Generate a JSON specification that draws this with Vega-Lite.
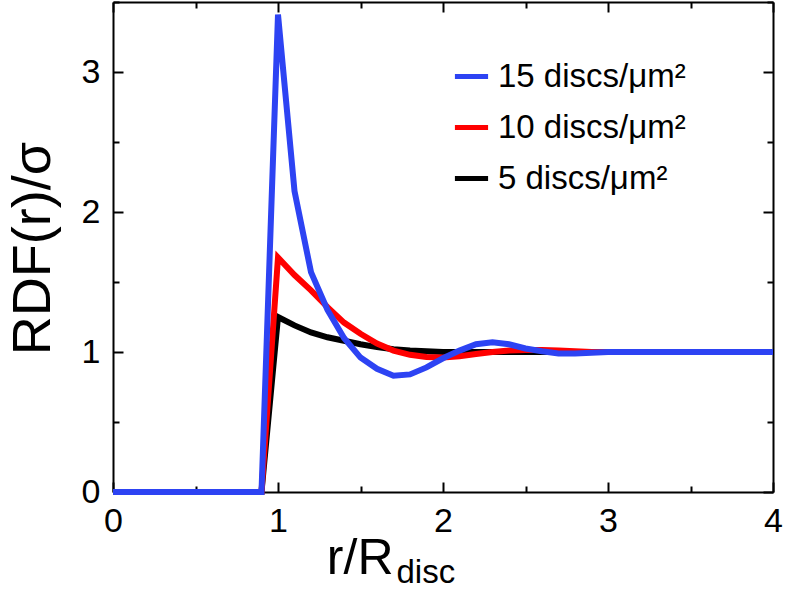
{
  "$schema": "https://vega.github.io/schema/vega-lite/v6.json",
  "width": 660,
  "height": 490,
  "autosize": {"type": "none"},
  "padding": {"left": 113, "top": 2, "right": 13, "bottom": 98},
  "background": "white",
  "config": {
    "view": {"stroke": null},
    "font": "Liberation Sans",
    "axis": {
      "grid": false,
      "domainColor": "black",
      "domainWidth": 2,
      "tickColor": "black",
      "tickWidth": 2,
      "labelColor": "black",
      "titleColor": "black",
      "labelFont": "Liberation Sans",
      "titleFont": "Liberation Sans",
      "titleFontWeight": "normal"
    }
  },
  "data": {
    "values": [
      {"series": "5 discs/μm²", "r": 0, "v": 0},
      {"series": "5 discs/μm²", "r": 0.9, "v": 0},
      {"series": "5 discs/μm²", "r": 1.0, "v": 1.25},
      {"series": "5 discs/μm²", "r": 1.1, "v": 1.19},
      {"series": "5 discs/μm²", "r": 1.2, "v": 1.14},
      {"series": "5 discs/μm²", "r": 1.3, "v": 1.105},
      {"series": "5 discs/μm²", "r": 1.4, "v": 1.08},
      {"series": "5 discs/μm²", "r": 1.5, "v": 1.055},
      {"series": "5 discs/μm²", "r": 1.6, "v": 1.035},
      {"series": "5 discs/μm²", "r": 1.7, "v": 1.02},
      {"series": "5 discs/μm²", "r": 1.8, "v": 1.01},
      {"series": "5 discs/μm²", "r": 1.9, "v": 1.005},
      {"series": "5 discs/μm²", "r": 2.0, "v": 1.0},
      {"series": "5 discs/μm²", "r": 2.2, "v": 1.0},
      {"series": "5 discs/μm²", "r": 2.5, "v": 1.0},
      {"series": "5 discs/μm²", "r": 3.0, "v": 1.0},
      {"series": "5 discs/μm²", "r": 4.0, "v": 1.0},
      {"series": "10 discs/μm²", "r": 0, "v": 0},
      {"series": "10 discs/μm²", "r": 0.9, "v": 0},
      {"series": "10 discs/μm²", "r": 1.0, "v": 1.675},
      {"series": "10 discs/μm²", "r": 1.1, "v": 1.55},
      {"series": "10 discs/μm²", "r": 1.2, "v": 1.44},
      {"series": "10 discs/μm²", "r": 1.3, "v": 1.32},
      {"series": "10 discs/μm²", "r": 1.4, "v": 1.21},
      {"series": "10 discs/μm²", "r": 1.5, "v": 1.13},
      {"series": "10 discs/μm²", "r": 1.6, "v": 1.06},
      {"series": "10 discs/μm²", "r": 1.7, "v": 1.01},
      {"series": "10 discs/μm²", "r": 1.8, "v": 0.98},
      {"series": "10 discs/μm²", "r": 1.9, "v": 0.965},
      {"series": "10 discs/μm²", "r": 2.0, "v": 0.96},
      {"series": "10 discs/μm²", "r": 2.1, "v": 0.97},
      {"series": "10 discs/μm²", "r": 2.2, "v": 0.985},
      {"series": "10 discs/μm²", "r": 2.3, "v": 1.0},
      {"series": "10 discs/μm²", "r": 2.4, "v": 1.01},
      {"series": "10 discs/μm²", "r": 2.5, "v": 1.015},
      {"series": "10 discs/μm²", "r": 2.6, "v": 1.015},
      {"series": "10 discs/μm²", "r": 2.7, "v": 1.01},
      {"series": "10 discs/μm²", "r": 2.8, "v": 1.005},
      {"series": "10 discs/μm²", "r": 2.9, "v": 1.0},
      {"series": "10 discs/μm²", "r": 3.0, "v": 1.0},
      {"series": "10 discs/μm²", "r": 4.0, "v": 1.0},
      {"series": "15 discs/μm²", "r": 0, "v": 0},
      {"series": "15 discs/μm²", "r": 0.9, "v": 0},
      {"series": "15 discs/μm²", "r": 1.0, "v": 3.41},
      {"series": "15 discs/μm²", "r": 1.1, "v": 2.15},
      {"series": "15 discs/μm²", "r": 1.2, "v": 1.57},
      {"series": "15 discs/μm²", "r": 1.3, "v": 1.3},
      {"series": "15 discs/μm²", "r": 1.4, "v": 1.1},
      {"series": "15 discs/μm²", "r": 1.5, "v": 0.96},
      {"series": "15 discs/μm²", "r": 1.6, "v": 0.88},
      {"series": "15 discs/μm²", "r": 1.7, "v": 0.83},
      {"series": "15 discs/μm²", "r": 1.8, "v": 0.84},
      {"series": "15 discs/μm²", "r": 1.9, "v": 0.89},
      {"series": "15 discs/μm²", "r": 2.0, "v": 0.955},
      {"series": "15 discs/μm²", "r": 2.1, "v": 1.01},
      {"series": "15 discs/μm²", "r": 2.2, "v": 1.055},
      {"series": "15 discs/μm²", "r": 2.3, "v": 1.07},
      {"series": "15 discs/μm²", "r": 2.4, "v": 1.055},
      {"series": "15 discs/μm²", "r": 2.5, "v": 1.025},
      {"series": "15 discs/μm²", "r": 2.6, "v": 1.005},
      {"series": "15 discs/μm²", "r": 2.7, "v": 0.99},
      {"series": "15 discs/μm²", "r": 2.8, "v": 0.99},
      {"series": "15 discs/μm²", "r": 2.9, "v": 0.995},
      {"series": "15 discs/μm²", "r": 3.0, "v": 1.0},
      {"series": "15 discs/μm²", "r": 4.0, "v": 1.0}
    ]
  },
  "layer": [
    {
      "mark": {"type": "line", "strokeWidth": 6, "strokeJoin": "miter", "strokeCap": "butt"},
      "encoding": {
        "x": {
          "field": "r", "type": "quantitative",
          "scale": {"domain": [0, 4], "nice": false},
          "axis": {
            "orient": "bottom", "values": [0, 1, 2, 3, 4], "ticks": false, "tickSize": 0,
            "labelFontSize": 34, "labelPadding": 12, "labelFlush": false,
            "title": "r/R", "titleFontSize": 50, "titleX": 280, "titleY": 81,
            "titleAlign": "right", "titleBaseline": "alphabetic"
          }
        },
        "y": {
          "field": "v", "type": "quantitative",
          "scale": {"domain": [0, 3.5], "nice": false},
          "axis": {
            "orient": "left", "values": [0, 1, 2, 3], "ticks": false, "tickSize": 0,
            "labelFontSize": 34, "labelPadding": 13, "labelFlush": false,
            "title": "RDF(r)/σ", "titleFontSize": 54, "titleAngle": -90,
            "titleX": -64, "titleY": 246, "titleAlign": "center", "titleBaseline": "alphabetic"
          }
        },
        "color": {
          "field": "series", "type": "nominal",
          "scale": {"domain": ["15 discs/μm²", "10 discs/μm²", "5 discs/μm²"], "range": ["#2d43f3", "#ff0000", "#000000"]},
          "legend": {
            "title": null, "orient": "none", "legendX": 339, "legendY": 55,
            "symbolType": "stroke", "symbolStrokeWidth": 5, "symbolSize": 1100,
            "labelFontSize": 33, "labelOffset": 7, "rowPadding": 14, "padding": 0,
            "labelLimit": 0, "labelColor": "black", "labelFont": "Liberation Sans"
          }
        }
      }
    },
    {
      "mark": {"type": "point", "opacity": 0},
      "encoding": {
        "x": {
          "field": "r", "type": "quantitative",
          "axis": {
            "orient": "bottom", "values": [0, 0.5, 1, 1.5, 2, 2.5, 3, 3.5, 4],
            "labels": false, "domain": false,
            "tickSize": {"condition": {"test": "datum.value % 1 === 0", "value": -10}, "value": -6},
            "title": "disc", "titleFontSize": 33, "titleX": 283, "titleY": 90,
            "titleAlign": "left", "titleBaseline": "alphabetic"
          }
        },
        "y": {
          "field": "v", "type": "quantitative",
          "axis": {
            "orient": "left", "values": [0, 0.5, 1, 1.5, 2, 2.5, 3, 3.5],
            "labels": false, "domain": false, "title": null,
            "tickSize": {"condition": {"test": "datum.value % 1 === 0", "value": -10}, "value": -6}
          }
        }
      }
    },
    {
      "mark": {"type": "point", "opacity": 0},
      "encoding": {
        "x": {
          "field": "r", "type": "quantitative",
          "axis": {
            "orient": "top", "values": [0, 0.5, 1, 1.5, 2, 2.5, 3, 3.5, 4],
            "labels": false, "domain": true, "title": null,
            "tickSize": {"condition": {"test": "datum.value % 1 === 0", "value": -10}, "value": -6}
          }
        },
        "y": {
          "field": "v", "type": "quantitative",
          "axis": {
            "orient": "right", "values": [0, 0.5, 1, 1.5, 2, 2.5, 3, 3.5],
            "labels": false, "domain": true, "title": null,
            "tickSize": {"condition": {"test": "datum.value % 1 === 0", "value": -10}, "value": -6}
          }
        }
      }
    }
  ],
  "resolve": {"axis": {"x": "independent", "y": "independent"}}
}
